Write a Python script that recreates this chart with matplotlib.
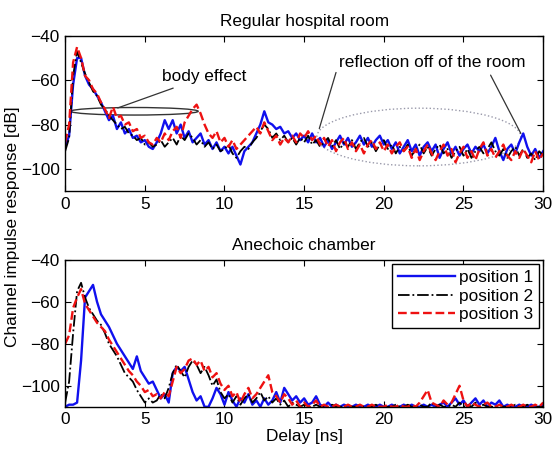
import numpy as np
from matplotlib import pyplot as plt
from matplotlib.patches import Ellipse

plt.rcParams["font.family"] = ["Liberation Sans", "DejaVu Sans"]
plt.rcParams["font.size"] = 12.4

# delay axis, 0.25 ns steps (shared by both panels)
delay = np.arange(121) * 0.25

# ---- regular hospital room ----
room_pos1 = [
    -90, -85, -62, -50, -50, -58, -62, -64, -67, -70, -74, -78,
    -76, -82, -79, -84, -82, -86, -85, -88, -87, -90, -91, -88,
    -84, -78, -82, -78, -84, -80, -86, -83, -88, -86, -84, -89,
    -87, -91, -88, -92, -90, -93, -90, -94, -98, -92, -90, -88,
    -84, -80, -74, -79, -80, -82, -81, -84, -83, -86, -84, -87,
    -85, -88, -84, -88, -86, -90, -87, -91, -88, -85, -89, -86,
    -90, -88, -85, -89, -86, -90, -87, -85, -89, -87, -91, -88,
    -93, -90, -87, -92, -89, -94, -90, -88, -92, -89, -95, -91,
    -88, -93, -90, -94, -91, -89, -93, -90, -92, -89, -93, -90,
    -86, -92, -96, -91, -89, -93, -88, -84, -90, -94, -91, -95,
    -92,
]
room_pos2 = [
    -92, -86, -58, -47, -52, -57, -61, -65, -67, -71, -73, -76,
    -78, -80, -82, -81, -84, -85, -87, -86, -89, -88, -90, -89,
    -87, -90, -88, -86, -89, -85, -87, -84, -86, -89, -87, -90,
    -88, -91, -89, -92, -91, -89, -93, -95, -92, -90, -91, -88,
    -86, -83, -80, -82, -86, -84, -87, -85, -88, -86, -89, -86,
    -88, -85, -89, -87, -90, -88, -86, -90, -87, -91, -88, -90,
    -87, -91, -88, -86, -90, -88, -92, -89, -87, -91, -89, -93,
    -90, -92, -89, -94, -91, -89, -93, -90, -94, -91, -89, -93,
    -91, -95, -92, -90, -94, -91, -95, -92, -90, -93, -91, -88,
    -92, -94, -91, -95, -92, -90, -94, -91, -95, -93, -96, -92,
    -94,
]
room_pos3 = [
    -88, -80, -52, -45, -50, -58, -60, -64, -66, -70, -73, -77,
    -72, -77, -76, -80, -79, -83, -82, -86, -85, -88, -89, -86,
    -88, -84, -87, -83, -81, -86, -79, -76, -73, -71, -75, -80,
    -84, -86, -83, -88, -86, -90, -87, -91, -89, -87, -85, -83,
    -81, -84, -79, -83, -87, -85, -89, -86, -88, -85, -88, -84,
    -86, -83, -87, -85, -89, -86, -90, -87, -92, -88, -86, -91,
    -88, -92, -89, -93, -89, -87, -91, -88, -92, -89, -93, -90,
    -88, -92, -90, -95, -91, -96, -92, -89, -93, -96, -92, -89,
    -94, -91, -97, -93, -90, -95, -92, -96, -91, -88, -94, -91,
    -95, -92, -89, -94, -96, -92, -95, -91, -94, -97, -92, -96,
    -93,
]

# ---- anechoic chamber ----
anec_pos1 = [
    -110, -109, -109, -108, -88, -58, -55, -52, -60, -66, -69, -72,
    -76, -80, -83, -86, -89, -92, -86, -93, -96, -99, -98, -102,
    -106, -104, -108, -94, -91, -93, -91, -97, -103, -107, -105, -110,
    -110, -106, -101, -104, -109, -103, -107, -110, -106, -108, -104, -109,
    -107, -110, -106, -109, -107, -103, -108, -101, -104, -107, -105, -108,
    -106, -109, -108, -105, -109, -110, -108, -110, -109, -110, -109, -110,
    -110, -109, -110, -110, -109, -110, -110, -109, -110, -110, -109, -110,
    -110, -109, -110, -109, -110, -110, -109, -110, -109, -110, -109, -108,
    -110, -108, -106, -109, -107, -110, -108, -106, -109, -107, -110, -108,
    -109, -107, -110, -109, -110, -110, -109, -110, -110, -109, -110, -110,
    -109,
]
anec_pos2 = [
    -108, -98, -75, -55, -51, -58, -63, -66, -69, -71, -75, -80,
    -83, -86, -90, -94, -96, -98, -102, -105, -108, -106, -108, -107,
    -104, -106, -101, -94, -90, -93, -96, -91, -88, -90, -94, -91,
    -95, -100, -97, -103, -106, -104, -108, -105, -109, -106, -104, -108,
    -106, -103, -107, -105, -108, -106, -109, -107, -110, -108, -109, -110,
    -109, -110, -110, -109, -110, -110, -110, -109, -110, -110, -110, -109,
    -110, -110, -109, -110, -110, -110, -109, -110, -110, -110, -110, -109,
    -110, -110, -109, -110, -110, -109, -110, -110, -108, -110, -109, -110,
    -110, -109, -110, -108, -110, -109, -110, -108, -110, -109, -110, -110,
    -110, -109, -110, -110, -110, -109, -110, -110, -109, -110, -110, -110,
    -110,
]
anec_pos3 = [
    -80, -76, -63, -58, -54, -61, -64, -67, -70, -72, -74, -78,
    -81, -84, -87, -90, -93, -95, -98, -100, -103, -102, -105, -104,
    -106, -103, -105, -98, -91, -94, -92, -88, -87, -90, -88, -93,
    -91, -96, -94, -99, -102, -100, -105, -103, -108, -104, -101, -106,
    -104, -101, -98, -95, -103, -105, -108, -104, -106, -109, -107, -110,
    -108, -110, -109, -107, -110, -109, -110, -110, -109, -110, -110, -109,
    -110, -110, -109, -110, -110, -109, -110, -110, -110, -109, -110, -110,
    -109, -110, -110, -109, -110, -108, -105, -102, -108, -109, -110, -107,
    -109, -108, -104, -100, -107, -110, -108, -109, -110, -109, -108, -110,
    -110, -109, -110, -110, -109, -110, -110, -109, -110, -110, -109, -110,
    -108,
]

labels = ["position 1", "position 2", "position 3"]


def style_axes(ax):
    ax.set_xlim(0, 30)
    ax.set_ylim(-110, -40)
    ax.set_xticks([0, 5, 10, 15, 20, 25, 30])
    ax.set_yticks([-40, -60, -80, -100])
    ax.tick_params(direction="in", top=True, right=True, length=4,
                   labelsize=12.4, width=0.8, pad=4)
    for s in ax.spines.values():
        s.set_linewidth(1.0)


def draw(ax, p1, p2, p3):
    ax.plot(delay, p1, color="#1010ee", lw=1.7, ls="-", label=labels[0])
    ax.plot(delay, p2, color="black", lw=1.3, ls="-.", label=labels[1])
    ax.plot(delay, p3, color="#ee1111", lw=1.7, ls="--", label=labels[2])


fig = plt.figure(figsize=(5.52, 4.54), dpi=100)
ax1 = fig.add_axes([0.118, 0.579, 0.866, 0.342])
ax2 = fig.add_axes([0.118, 0.104, 0.866, 0.324])

draw(ax1, room_pos1, room_pos2, room_pos3)
style_axes(ax1)
ax1.set_title("Regular hospital room", fontsize=12.4, pad=7)

# body effect marker
ax1.add_patch(Ellipse((4.35, -74.0), 8.0, 3.4, fill=False, ec="#333333", lw=1.0))
ax1.annotate("body effect", xy=(3.3, -72.5), xytext=(6.1, -58.5),
             fontsize=12.4, va="center",
             arrowprops=dict(arrowstyle="-", color="#333333", lw=0.9,
                             shrinkA=2, shrinkB=0))

# reflection marker
ax1.add_patch(Ellipse((22.2, -85.6), 12.8, 26, fill=False, ec="#9999aa",
                      lw=1.0, ls=":"))
ax1.text(17.2, -51.8, "reflection off of the room", fontsize=12.4, va="center")
ax1.annotate("", xy=(15.95, -81.8), xytext=(17.0, -56.5),
             arrowprops=dict(arrowstyle="-", color="#333333", lw=0.9,
                             shrinkA=0, shrinkB=0))
ax1.annotate("", xy=(28.6, -84), xytext=(26.7, -57.7),
             arrowprops=dict(arrowstyle="-", color="#333333", lw=0.9,
                             shrinkA=0, shrinkB=0))

draw(ax2, anec_pos1, anec_pos2, anec_pos3)
style_axes(ax2)
ax2.set_title("Anechoic chamber", fontsize=12.4, pad=7)
leg = ax2.legend(loc="upper right", fontsize=12.4, handlelength=3.3,
                 handletextpad=0.2, borderaxespad=0.25, borderpad=0.35,
                 labelspacing=0.2, fancybox=False, framealpha=1)
leg.get_frame().set_edgecolor("black")
leg.get_frame().set_linewidth(1.0)
ax2.set_xlabel("Delay [ns]", fontsize=12.4, labelpad=1)

fig.text(0.022, 0.5, "Channel impulse response [dB]", rotation=90,
         va="center", ha="center", fontsize=12.4)

fig.savefig("out.png", dpi=100)
